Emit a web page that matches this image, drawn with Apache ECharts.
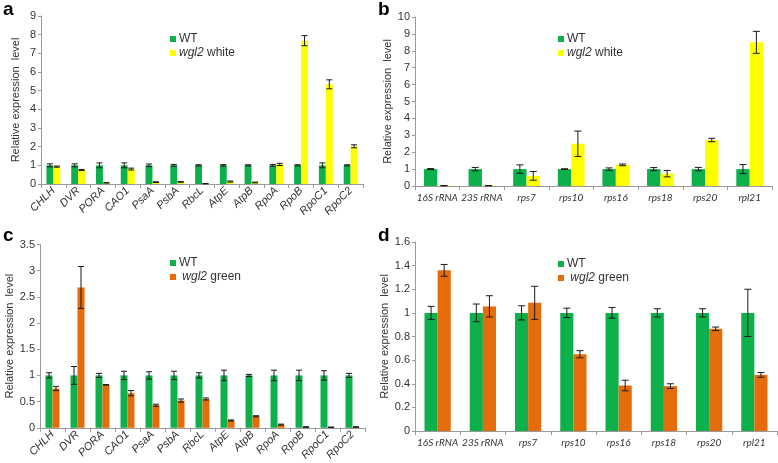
<!DOCTYPE html>
<html><head><meta charset="utf-8">
<script src="https://cdn.jsdelivr.net/npm/echarts@6/dist/echarts.min.js"></script>
<style>html,body{margin:0;padding:0;background:#fff}#c{width:778px;height:463px}</style>
</head><body><div id="c"></div>
<script>
const catA = ['CHLH','DVR','PORA','CAO1','PsaA','PsbA','RbcL','AtpE','AtpB','RpoA','RpoB','RpoC1','RpoC2'];
const wtA = [1,1,1,1,1,1,1,1,1,1,1,1,1];
const wtErrA = [0.08,0.08,0.13,0.13,0.07,0.05,0.03,0.04,0.03,0.05,0.03,0.13,0.03];
const whiteA = [0.93,0.75,0.06,0.8,0.1,0.11,0.02,0.13,0.08,1.05,7.68,5.34,2.02];
const whiteErrA = [0.03,0.03,0.01,0.05,0.02,0.02,0.01,0.03,0.02,0.06,0.27,0.24,0.08];

const catB = ['16S rRNA','23S rRNA','rps7','rps10','rps16','rps18','rps20','rpl21'];
const wtB = [1,1,1,1,1,1,1,1];
const wtErrB = [0.03,0.1,0.25,0.02,0.07,0.09,0.1,0.27];
const whiteB = [0.02,0.02,0.6,2.5,1.25,0.73,2.72,8.5];
const whiteErrB = [0.01,0.01,0.26,0.75,0.05,0.19,0.1,0.65];

const catC = catA;
const wtC = [1,1,1,1,1,1,1,1,1,1,1,1,1];
const wtErrC = [0.05,0.17,0.04,0.08,0.07,0.08,0.05,0.1,0.02,0.1,0.1,0.09,0.04];
const greenC = [0.75,2.68,0.82,0.66,0.43,0.52,0.55,0.14,0.22,0.06,0.015,0.01,0.015];
const greenErrC = [0.04,0.4,0.005,0.05,0.02,0.03,0.02,0.01,0.01,0.01,0.005,0.005,0.005];

const catD = catB;
const wtD = [1,1,1,1,1,1,1,1];
const wtErrD = [0.055,0.075,0.06,0.04,0.045,0.035,0.035,0.2];
const greenD = [1.36,1.055,1.085,0.65,0.385,0.38,0.865,0.475];
const greenErrD = [0.05,0.09,0.14,0.03,0.045,0.02,0.015,0.02];

const GREEN = '#0DB04B', YELLOW = '#FFFF00', ORANGE = '#E46C0A';
const FONT = 'Liberation Sans';
const chart = echarts.init(document.getElementById('c'), null, {renderer:'canvas'});

const panels = [
  {cats:catA, wt:wtA, wtE:wtErrA, mu:whiteA, muE:whiteErrA, muName:'wgl2 white', muColor:YELLOW,
   grid:{left:41, top:16, width:322, height:168}, max:9, interval:1, gap:0.44, rot:true,
   legend:{left:165, top:28}, nameGap:20, cap:6},
  {cats:catB, wt:wtB, wtE:wtErrB, mu:whiteB, muE:whiteErrB, muName:'wgl2 white', muColor:YELLOW,
   grid:{left:415, top:17, width:357, height:169}, max:10, interval:1, gap:0.4, rot:false,
   legend:{left:553, top:28}, nameGap:21, cap:7},
  {cats:catC, wt:wtC, wtE:wtErrC, mu:greenC, muE:greenErrC, muName:' wgl2 green', muColor:ORANGE,
   grid:{left:40, top:244.5, width:325, height:185}, max:3.5, interval:0.5, gap:0.44, rot:true,
   legend:{left:165, top:252}, nameGap:20, cap:6},
  {cats:catD, wt:wtD, wtE:wtErrD, mu:greenD, muE:greenErrD, muName:' wgl2 green', muColor:ORANGE,
   grid:{left:415, top:242, width:362, height:189}, max:1.6, interval:0.2, gap:0.42, rot:false,
   legend:{left:553, top:253}, nameGap:25, cap:7}
];

const grids=[], xAxes=[], yAxes=[], series=[], legends=[];
panels.forEach((p, k) => {
  grids.push(Object.assign({containLabel:false}, p.grid));
  xAxes.push({type:'category', gridIndex:k, data:p.cats,
    axisLine:{lineStyle:{color:'#9a9a9a'}},
    axisTick:{show:true, length:4, lineStyle:{color:'#9a9a9a'}},
    axisLabel:{interval:0, rotate:p.rot?45:0, fontStyle:'italic', fontSize:p.rot?11:10,
      fontFamily:p.rot?FONT:'Lato', color:'#333', margin:p.rot?5:7}});
  yAxes.push({type:'value', gridIndex:k, min:0, max:p.max, interval:p.interval,
    name:'Relative expression  level', nameLocation:'middle', nameGap:p.nameGap,
    nameTextStyle:{fontSize:11, fontFamily:FONT, color:'#333'},
    splitLine:{show:false},
    axisLine:{show:true, lineStyle:{color:'#9a9a9a'}},
    axisTick:{show:true, length:3, lineStyle:{color:'#9a9a9a'}},
    axisLabel:{fontSize:11, fontFamily:FONT, color:'#333', margin:5}});
  const gapPct = Math.round(p.gap*100)+'%';
  series.push({type:'bar', name:'WT', xAxisIndex:k, yAxisIndex:k, data:p.wt,
    itemStyle:{color:GREEN}, barGap:'0%', barCategoryGap:gapPct});
  series.push({type:'bar', name:p.muName, xAxisIndex:k, yAxisIndex:k, data:p.mu,
    itemStyle:{color:p.muColor}, barGap:'0%', barCategoryGap:gapPct});
  const mk = (vals, errs, side) => ({type:'custom', xAxisIndex:k, yAxisIndex:k, z:10,
    encode:{x:0, y:1}, silent:true,
    data: vals.map((v,i)=>[i, v, errs[i]]),
    renderItem:(params, api) => {
      const i = api.value(0), v = api.value(1), e = api.value(2);
      const band = api.size([1,0])[0];
      const bw = band*(1-p.gap)/2;
      const c = api.coord([i, v]);
      const x = c[0] + side*bw/2;
      const yt = api.coord([i, v+e])[1], yb = api.coord([i, Math.max(v-e,0)])[1];
      const h = p.cap/2;
      const st = {stroke:'#1a1a1a', lineWidth:1};
      return {type:'group', children:[
        {type:'line', shape:{x1:x, y1:yt, x2:x, y2:yb}, style:st},
        {type:'line', shape:{x1:x-h, y1:yt, x2:x+h, y2:yt}, style:st},
        {type:'line', shape:{x1:x-h, y1:yb, x2:x+h, y2:yb}, style:st}
      ]};
    }});
  series.push(mk(p.wt, p.wtE, -1));
  series.push(mk(p.mu, p.muE, 1));
  legends.push({show:true, orient:'vertical', left:p.legend.left, top:p.legend.top,
    data:['WT', p.muName], itemWidth:6, itemHeight:6, itemGap:2, icon:'rect',
    selectedMode:false,
    formatter: (n) => n.indexOf('wgl2')>=0 ? n.replace('wgl2','{i|wgl2}') : n,
    textStyle:{fontSize:12, fontFamily:FONT, color:'#333', padding:[0,0,0,-2],
      rich:{i:{fontStyle:'italic', fontSize:12, fontFamily:FONT, color:'#333'}}}});
});

chart.setOption({
  animation:false,
  textStyle:{fontFamily:FONT},
  grid:grids, xAxis:xAxes, yAxis:yAxes, series:series, legend:legends,
  graphic:[
    {type:'text', left:3, top:0, style:{text:'a', font:'bold 19px "Liberation Sans"', fill:'#000'}},
    {type:'text', left:378, top:0, style:{text:'b', font:'bold 19px "Liberation Sans"', fill:'#000'}},
    {type:'text', left:3, top:226, style:{text:'c', font:'bold 19px "Liberation Sans"', fill:'#000'}},
    {type:'text', left:378, top:226, style:{text:'d', font:'bold 19px "Liberation Sans"', fill:'#000'}}
  ]
});
</script></body></html>
